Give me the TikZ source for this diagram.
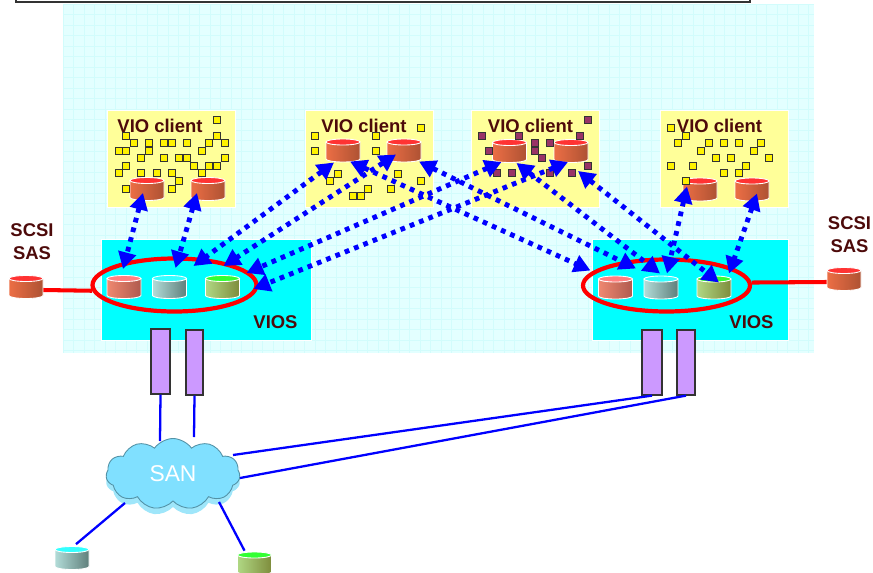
\documentclass[tikz,border=0pt]{standalone}
\usepackage{fontspec}
\setmainfont{Liberation Sans}
\usetikzlibrary{shapes.geometric,shapes.symbols,arrows.meta}

\definecolor{bgcyan}{HTML}{E3FFFF}
\definecolor{bggrid}{HTML}{D2FCFC}
\definecolor{lparyellow}{HTML}{FFFF99}
\definecolor{labelred}{HTML}{4D0A0A}
\definecolor{adapter}{HTML}{CC99FF}
\definecolor{viosfill}{HTML}{00FFFF}
\definecolor{procred}{HTML}{993366}
\definecolor{sanblue}{HTML}{80E0FF}
\definecolor{sanbase}{HTML}{9FE6FA}
\definecolor{diskrl}{HTML}{EC6E45}\definecolor{diskrm}{HTML}{EF5A30}\definecolor{diskrr}{HTML}{AE5233}\definecolor{diskrt}{HTML}{FF3333}
\definecolor{diskpl}{HTML}{F08870}\definecolor{diskpm}{HTML}{DD6E5C}\definecolor{diskpr}{HTML}{AE5A4E}\definecolor{diskpt}{HTML}{FF8080}
\definecolor{disktl}{HTML}{B2DCD8}\definecolor{disktm}{HTML}{7CC2C2}\definecolor{disktr}{HTML}{5F7F7B}\definecolor{disktt}{HTML}{33FFFF}
\definecolor{diskgl}{HTML}{B0D884}\definecolor{diskgm}{HTML}{9CC262}\definecolor{diskgr}{HTML}{7E8C3C}\definecolor{diskgt}{HTML}{33FF33}

\tikzset{
  lparbox/.style={fill=lparyellow, draw=white, line width=.5pt, minimum width=2.56cm, minimum height=1.94cm, inner sep=0},
  viosbox/.style={fill=viosfill, draw=white, line width=.5pt, inner sep=0, minimum height=2.02cm},
  lparname/.style={text=labelred, font=\fontsize{10.5pt}{12.8pt}\selectfont\bfseries, align=center, inner sep=0},
  diskhold/.style={minimum width=.68cm, minimum height=.46cm, inner sep=0},
  yproc/.style={draw=black!80, fill=yellow, line width=.8pt, minimum size=.15cm, inner sep=0},
  mproc/.style={draw=black!80, fill=procred, line width=.8pt, minimum size=.15cm, inner sep=0},
  redring/.style={ellipse, draw=red, line width=2.4pt, inner sep=0},
  redlink/.style={draw=red, line width=2.3pt},
  dotlink/.style={draw=blue, line width=2.8pt, dash pattern=on 2.7pt off 3pt,
    {Triangle[length=9.5pt,width=10pt]}-{Triangle[length=9.5pt,width=10pt]}},
  adapterbox/.style={fill=adapter, draw=black!80, line width=.7pt, minimum height=1.3cm, inner sep=0},
  sanlink/.style={draw=blue, line width=1.3pt},
  sancloud/.style={cloud, cloud puffs=11, cloud puff arc=110, aspect=1.85, minimum width=2.68cm, minimum height=1.42cm, inner sep=0}
}

% name, x, y, colour letter
\newcommand{\disk}[4]{
  \node[diskhold] (#1) at (#2,#3) {};
  \draw[shift={(#2,#3)}, draw=white, line width=.5pt, left color=disk#4l, middle color=disk#4m, right color=disk#4r]
    (-17,-8.5) -- (-17,8.5) arc[start angle=180, end angle=0, x radius=17, y radius=3] -- (17,-8.5) -- cycle;
  \draw[shift={(#2,#3)}, draw=white, line width=.5pt, fill=disk#4t] (0,-8.5) ellipse[x radius=17, y radius=3];
}

\begin{document}
\begin{tikzpicture}[x=0.02cm, y=-0.02cm]
  \clip (0,0) rectangle (873,572);

  % outer frame
  \fill[bgcyan] (63,4) rectangle (814,353);
  \foreach \gx in {0,...,71}
    \draw[bggrid, line width=.3pt] (63+\gx*10.5,4) -- (63+\gx*10.5,353);
  \foreach \gy in {0,...,33}
    \draw[bggrid, line width=.3pt] (63,4+\gy*10.5) -- (814,4+\gy*10.5);
  \draw[black!80, fill=white, line width=.7pt] (16,-6) rectangle (750,2);

  % client partitions
  \node[lparbox] (lpa) at (171.5,158.5) {};
  \node[lparbox] (lpb) at (369,158.5) {};
  \node[lparbox] (lpc) at (535,158.5) {};
  \node[lparbox] (lpd) at (724,158.5) {};

  % vios partitions
  \node[viosbox, minimum width=4.2cm] (vbl) at (206,289.5) {};
  \node[viosbox, minimum width=3.92cm] (vbr) at (690,290) {};

  \disk{cla}{147}{189}{r}
  \disk{clb}{208}{189}{r}
  \disk{cma}{343}{150.5}{r}
  \disk{cmb}{404}{150.5}{r}
  \disk{cna}{509.5}{151}{r}
  \disk{cnb}{571}{151}{r}
  \disk{coa}{700}{189.5}{r}
  \disk{cob}{752}{189.5}{r}

  \disk{vla}{124}{287}{p}
  \disk{vlb}{169.5}{287}{t}
  \disk{vlc}{222.5}{287}{g}
  \disk{vra}{615.5}{287.5}{p}
  \disk{vrb}{661}{287.5}{t}
  \disk{vrc}{714}{287.5}{g}

  \disk{scl}{26}{287}{r}
  \disk{scr}{844}{279}{r}
  \disk{dta}{72}{558}{t}
  \disk{dtb}{254.5}{563.5}{g}

  % processors
  \foreach \sx/\sy [count=\n] in {217/120,126/136,217/136,134/143,149/143,164/143,172/143,187/143,209/143,225/143,119/151,126/151,149/151,202/151,141/158,164/158,179/158,187/158,225/158,194/166,209/166,217/166,126/166,119/173,141/173,157/173,172/173,202/173,179/181,126/189,172/189}
    \node[yproc] (pa\n) at (\sx,\sy) {};
  \foreach \sx/\sy [count=\n] in {315/136,421/128,376/136,315/151,376/151,338/174,398/174,330/181,421/181,368/189,391/189,353/196,361/196}
    \node[yproc] (pb\n) at (\sx,\sy) {};
  \foreach \sx/\sy [count=\n] in {482/136,588/120,519/136,580/136,535/143,550/143,489/151,535/151,542/158,588/166,497/173,512/173,550/173,572/173}
    \node[mproc] (pc\n) at (\sx,\sy) {};
  \foreach \sx/\sy [count=\n] in {671/128,686/136,678/143,709/143,724/143,739/143,761/143,701/151,754/151,716/158,731/158,769/158,671/166,693/166,746/166,724/173,739/173,686/181}
    \node[yproc] (pd\n) at (\sx,\sy) {};

  \node[lparname] (tla) at (160,126) {VIO client};
  \node[lparname] (tlb) at (364,126) {VIO client};
  \node[lparname] (tlc) at (530.5,126) {VIO client};
  \node[lparname] (tld) at (719.5,126) {VIO client};
  \node[lparname] (tva) at (275.5,322) {VIOS};
  \node[lparname] (tvb) at (751.5,322) {VIOS};
  \node[lparname] (tsa) at (32,241.5) {SCSI\\SAS};
  \node[lparname] (tsb) at (849.5,234.5) {SCSI\\SAS};

  % red rings
  \node[redring, minimum width=3.28cm, minimum height=1.06cm] (vl) at (174.5,285) {};
  \node[redring, minimum width=3.34cm, minimum height=1.04cm] (vr) at (666.5,285.5) {};
  \draw[redlink] ([shift={(0,3)}]scl.east) -- (vl.184);
  \draw[redlink] (vr.2) -- ([shift={(0,3)}]scr.west);

  % virtual links
  \draw[dotlink] ([shift={(-4,4)}]cla.center) -- ([shift={(-1,-18)}]vla.center);
  \draw[dotlink] ([shift={(-11,4)}]clb.center) -- ([shift={(6,-19)}]vlb.center);
  \draw[dotlink] ([shift={(-9,12)}]cma.center) -- ([shift={(-29,-21)}]vlc.center);
  \draw[dotlink] ([shift={(-8,4)}]cmb.center) -- ([shift={(1,-21)}]vlc.center);
  \draw[dotlink] ([shift={(-8,11)}]cna.center) -- ([shift={(24,-14)}]vlc.center);
  \draw[dotlink] ([shift={(-3,11)}]cnb.center) -- ([shift={(31,2)}]vlc.center);
  \draw[dotlink] ([shift={(7,11)}]cma.center) -- ([shift={(-25,-17)}]vra.center);
  \draw[dotlink] ([shift={(15,11)}]cmb.center) -- ([shift={(-25,-19)}]vrb.center);
  \draw[dotlink] ([shift={(7,12)}]cna.center) -- ([shift={(-1,-14)}]vrb.center);
  \draw[dotlink] ([shift={(7,20)}]cnb.center) -- ([shift={(5,-5)}]vrc.center);
  \draw[dotlink] ([shift={(-13,-3)}]coa.center) -- ([shift={(6,-14)}]vrb.center);
  \draw[dotlink] ([shift={(5,4)}]cob.center) -- ([shift={(15,-14)}]vrc.center);

  % fibre adapters
  \node[adapterbox, minimum width=.38cm] (fca) at (160.5,361.5) {};
  \node[adapterbox, minimum width=.34cm] (fcb) at (194.5,362.5) {};
  \node[adapterbox, minimum width=.4cm] (fcc) at (652,362.5) {};
  \node[adapterbox, minimum width=.36cm] (fcd) at (686,362.5) {};

  % san
  \node[sancloud, fill=sanbase] (sanb) at (173,480) {};
  \node[sancloud, fill=sanblue, draw=black!35!sanblue, line width=.5pt, text=white, font=\fontsize{13pt}{15pt}\selectfont] (san) at (173,474) {SAN};
  \draw[sanlink] (fca.south) -- ([shift={(-13,-33)}]san.center);
  \draw[sanlink] (fcb.south) -- ([shift={(21,-37)}]san.center);
  \draw[sanlink] (fcc.south) -- ([shift={(60,-19)}]san.center);
  \draw[sanlink] (fcd.south) -- ([shift={(67,4)}]san.center);
  \draw[sanlink] ([shift={(-48,29)}]san.center) -- ([shift={(4,-2)}]dta.north);
  \draw[sanlink] ([shift={(46,28)}]san.center) -- ([shift={(-10,-1)}]dtb.north);
\end{tikzpicture}
\end{document}
